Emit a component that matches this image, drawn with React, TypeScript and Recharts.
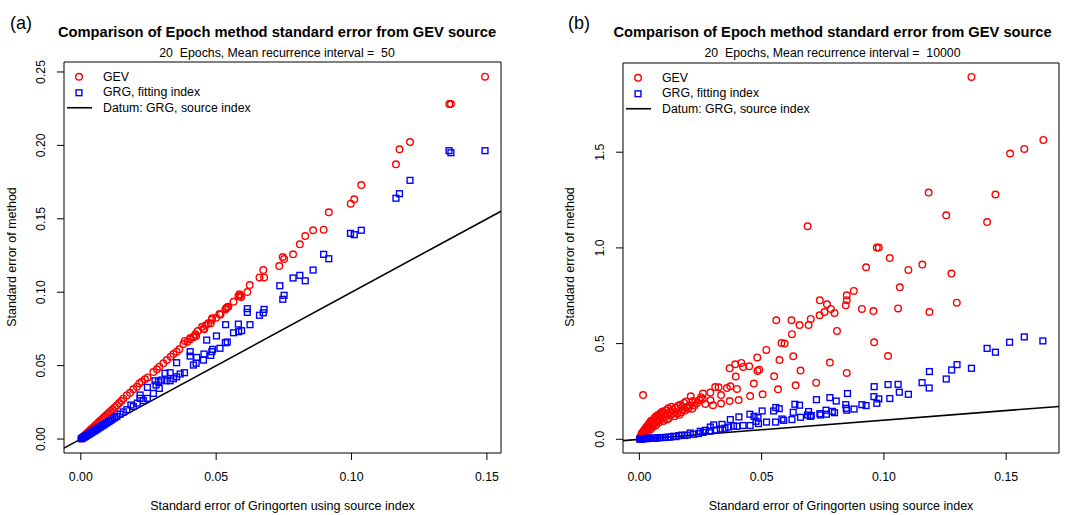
import React from 'react';
import { ScatterChart, Scatter, XAxis, YAxis, ReferenceLine, ReferenceArea } from 'recharts';

const FONT = '"Liberation Sans", Arial, Helvetica, sans-serif';
const W = 536;
const H = 515;

// tick positions
const xTicks = [0, 0.05, 0.1, 0.15];
const yTicksA = [0, 0.05, 0.1, 0.15, 0.2, 0.25];
const yTicksB = [0, 0.5, 1, 1.5];

// axis ranges (R style, 4% padding)
const xDomainA: [number, number] = [-0.0062, 0.1552];
const yDomainA: [number, number] = [-0.0095, 0.2568];
const xDomainB: [number, number] = [-0.0067, 0.1716];
const yDomainB: [number, number] = [-0.0716, 1.966];

// (a) MRI = 50, GEV standard error
const gevA: [number, number][] = [
  [0.0002, 0.0003], [0.0005, 0.0008], [0.0008, 0.0013], [0.0011, 0.0019], [0.0014, 0.0024],
  [0.0017, 0.0029], [0.0021, 0.0036], [0.0025, 0.0043], [0.0029, 0.005], [0.0033, 0.0057],
  [0.0037, 0.0064], [0.0041, 0.007], [0.0046, 0.0079], [0.0051, 0.0088], [0.0056, 0.0096],
  [0.0061, 0.0105], [0.0066, 0.0114], [0.0072, 0.0124], [0.0078, 0.0134], [0.0084, 0.0145],
  [0.009, 0.0155], [0.0097, 0.0167], [0.0104, 0.0179], [0.0111, 0.0191], [0.0118, 0.0203],
  [0.0126, 0.0217], [0.0134, 0.0231], [0.0142, 0.0245], [0.015, 0.0259], [0.0157, 0.0275],
  [0.017, 0.0298], [0.0182, 0.0315], [0.0194, 0.0339], [0.0207, 0.0356], [0.0216, 0.0379],
  [0.0225, 0.039], [0.0237, 0.0407], [0.0247, 0.042], [0.0268, 0.0456], [0.0281, 0.0475],
  [0.029, 0.0493], [0.0305, 0.0516], [0.0318, 0.0538], [0.0332, 0.0561], [0.0342, 0.0579],
  [0.0354, 0.0595], [0.0364, 0.0611], [0.0379, 0.0647], [0.0384, 0.0668], [0.0394, 0.0663],
  [0.0404, 0.0679], [0.0404, 0.0688], [0.0416, 0.0693], [0.0417, 0.0697], [0.0423, 0.0713],
  [0.0426, 0.0702], [0.0432, 0.0736], [0.0448, 0.0765], [0.0453, 0.0751], [0.0456, 0.0747],
  [0.0462, 0.0775], [0.0471, 0.0788], [0.048, 0.0788], [0.0484, 0.0811], [0.0485, 0.0822],
  [0.05, 0.0826], [0.0512, 0.0851], [0.0516, 0.0847], [0.0534, 0.0883], [0.0537, 0.089],
  [0.054, 0.0897], [0.0545, 0.0901], [0.0564, 0.0935], [0.0582, 0.0972], [0.0586, 0.0986],
  [0.0588, 0.0974], [0.0592, 0.0967], [0.0615, 0.1001], [0.0624, 0.1049], [0.066, 0.1101],
  [0.0674, 0.1151], [0.0677, 0.1101], [0.0733, 0.1178], [0.0746, 0.124], [0.0751, 0.1226],
  [0.0784, 0.1258], [0.0809, 0.1326], [0.0829, 0.1383], [0.0858, 0.1422], [0.0897, 0.1426],
  [0.0916, 0.1544], [0.0997, 0.1603], [0.101, 0.1633], [0.1036, 0.173], [0.1164, 0.1871],
  [0.1177, 0.1973], [0.1216, 0.2023], [0.1361, 0.2282], [0.1367, 0.2282], [0.1493, 0.2468],
];

// (a) GRG with fitting index
const grgA: [number, number][] = [
  [0.0002, 0.0002], [0.0005, 0.0006], [0.0008, 0.0009], [0.0011, 0.0012], [0.0014, 0.0016],
  [0.0017, 0.0019], [0.0021, 0.0023], [0.0025, 0.0028], [0.0029, 0.0032], [0.0033, 0.0037],
  [0.0037, 0.0041], [0.0041, 0.0046], [0.0046, 0.0052], [0.0051, 0.0057], [0.0056, 0.0063],
  [0.0061, 0.0069], [0.0066, 0.0075], [0.0072, 0.0082], [0.0078, 0.0089], [0.0084, 0.0096],
  [0.009, 0.0103], [0.0097, 0.0111], [0.0104, 0.012], [0.0111, 0.0128], [0.0118, 0.0137],
  [0.0126, 0.0146], [0.0133, 0.0155], [0.0145, 0.017], [0.0157, 0.0185], [0.017, 0.02],
  [0.0185, 0.0232], [0.0194, 0.0222], [0.0209, 0.0245], [0.0219, 0.0277], [0.0219, 0.03],
  [0.0231, 0.0262], [0.0246, 0.0277], [0.0246, 0.0352], [0.0268, 0.0311], [0.0274, 0.0397],
  [0.0278, 0.0368], [0.0287, 0.039], [0.029, 0.0345], [0.0299, 0.0402], [0.0311, 0.0448],
  [0.0315, 0.0397], [0.033, 0.0452], [0.033, 0.0397], [0.0342, 0.0411], [0.0354, 0.0424],
  [0.0354, 0.052], [0.0367, 0.0443], [0.0383, 0.0452], [0.0404, 0.0565], [0.0404, 0.0595],
  [0.0416, 0.0504], [0.0426, 0.0516], [0.0428, 0.0556], [0.0453, 0.0538], [0.0455, 0.0579],
  [0.0465, 0.0674], [0.048, 0.057], [0.0484, 0.0595], [0.0487, 0.0611], [0.0501, 0.0702],
  [0.0514, 0.0618], [0.0534, 0.0656], [0.0535, 0.0779], [0.0541, 0.0661], [0.0564, 0.0724],
  [0.0582, 0.0783], [0.0583, 0.0731], [0.0594, 0.0738], [0.0615, 0.0888], [0.0615, 0.0863],
  [0.0625, 0.0779], [0.066, 0.0843], [0.0674, 0.086], [0.0677, 0.0883], [0.0735, 0.1044],
  [0.0746, 0.0952], [0.0751, 0.0979], [0.0784, 0.1097], [0.0809, 0.1115], [0.0829, 0.1078],
  [0.0858, 0.1151], [0.0897, 0.1258], [0.0916, 0.1228], [0.0996, 0.1401], [0.101, 0.1392],
  [0.1036, 0.1422], [0.1164, 0.164], [0.1177, 0.1671], [0.1216, 0.1762], [0.136, 0.1964],
  [0.1367, 0.195], [0.1493, 0.1964],
];

// (b) MRI = 10000, GEV standard error
const gevB: [number, number][] = [
  [0.0002, 0.004], [0.0004, 0.012], [0.0006, 0.008], [0.0008, 0.018], [0.0009, 0.03],
  [0.0011, 0.026], [0.0013, 0.035], [0.0014, 0.02], [0.0015, 0.231], [0.0017, 0.032],
  [0.0018, 0.045], [0.002, 0.038], [0.0022, 0.052], [0.0023, 0.03], [0.0026, 0.044],
  [0.0027, 0.06], [0.003, 0.066], [0.0031, 0.047], [0.0034, 0.072], [0.0035, 0.04],
  [0.0038, 0.056], [0.0039, 0.08], [0.0042, 0.061], [0.0043, 0.088], [0.0046, 0.052],
  [0.0047, 0.095], [0.0049, 0.068], [0.0052, 0.073], [0.0053, 0.1], [0.0056, 0.064],
  [0.0058, 0.094], [0.006, 0.08], [0.0062, 0.11], [0.0065, 0.085], [0.0066, 0.118],
  [0.0068, 0.074], [0.007, 0.105], [0.0072, 0.092], [0.0074, 0.125], [0.0076, 0.099],
  [0.0079, 0.12], [0.008, 0.088], [0.0083, 0.132], [0.0084, 0.104], [0.0088, 0.128],
  [0.009, 0.14], [0.0093, 0.108], [0.0095, 0.145], [0.0098, 0.096], [0.0101, 0.136],
  [0.0106, 0.117], [0.0108, 0.15], [0.0112, 0.104], [0.0115, 0.13], [0.0118, 0.162],
  [0.012, 0.108], [0.0124, 0.142], [0.0128, 0.125], [0.0131, 0.17], [0.0136, 0.155],
  [0.0139, 0.138], [0.0144, 0.12], [0.0148, 0.165], [0.0154, 0.134], [0.0158, 0.175],
  [0.0163, 0.128], [0.0167, 0.18], [0.0172, 0.141], [0.0176, 0.17], [0.0178, 0.157],
  [0.0183, 0.19], [0.0186, 0.15], [0.0191, 0.198], [0.0195, 0.169], [0.02, 0.16],
  [0.0206, 0.178], [0.021, 0.225], [0.0216, 0.16], [0.0218, 0.2], [0.0225, 0.176],
  [0.0228, 0.195], [0.0236, 0.19], [0.0245, 0.205], [0.0252, 0.22], [0.0259, 0.211],
  [0.026, 0.239], [0.027, 0.185], [0.029, 0.244], [0.0291, 0.204],
  [0.0301, 0.178], [0.031, 0.273], [0.0324, 0.272], [0.0334, 0.231], [0.0334, 0.187],
  [0.0358, 0.268], [0.0369, 0.2], [0.0369, 0.371], [0.0372, 0.277], [0.0392, 0.392],
  [0.0394, 0.328], [0.0399, 0.263], [0.0406, 0.205], [0.0417, 0.399], [0.0424, 0.378],
  [0.0449, 0.381], [0.0453, 0.226], [0.0468, 0.291], [0.0482, 0.428], [0.0483, 0.357],
  [0.049, 0.364], [0.0504, 0.235], [0.0519, 0.467], [0.0551, 0.329], [0.056, 0.622],
  [0.0567, 0.261], [0.0573, 0.414], [0.0581, 0.503], [0.0594, 0.5], [0.0622, 0.622],
  [0.0624, 0.549], [0.0629, 0.434], [0.0639, 0.282], [0.0655, 0.597], [0.0659, 0.359],
  [0.0688, 1.113], [0.0692, 0.597], [0.0701, 0.629], [0.0723, 0.296], [0.0737, 0.648],
  [0.0738, 0.726], [0.0757, 0.665], [0.0767, 0.705], [0.0779, 0.401], [0.0783, 0.681],
  [0.0798, 0.66], [0.0808, 0.566], [0.0844, 0.7], [0.0848, 0.727], [0.0848, 0.752],
  [0.0848, 0.347], [0.0877, 0.775], [0.091, 0.681], [0.0927, 0.899], [0.0957, 0.67],
  [0.096, 0.507], [0.0971, 1.002], [0.0979, 1.002], [0.1017, 0.435], [0.1024, 0.947],
  [0.1058, 0.684], [0.1065, 0.794], [0.11, 0.885], [0.1157, 0.913], [0.1183, 1.289],
  [0.1186, 0.665], [0.1255, 1.17], [0.1276, 0.866], [0.1298, 0.714], [0.1358, 1.893],
  [0.1422, 1.135], [0.1456, 1.279], [0.1516, 1.493], [0.1574, 1.517], [0.1652, 1.564],
];

// (b) GRG with fitting index
const grgB: [number, number][] = [
  [0.0002, 0.001], [0.0004, 0.002], [0.0008, 0.002], [0.0012, 0.003], [0.0016, 0.003],
  [0.002, 0.004], [0.0025, 0.004], [0.0031, 0.004], [0.0037, 0.005], [0.0044, 0.005],
  [0.0051, 0.005], [0.0058, 0.005], [0.0066, 0.006], [0.0075, 0.007], [0.0086, 0.009],
  [0.0096, 0.009], [0.0106, 0.01], [0.0117, 0.011], [0.0127, 0.012], [0.014, 0.016],
  [0.015, 0.014], [0.0161, 0.019], [0.0174, 0.022], [0.0185, 0.02], [0.0195, 0.022],
  [0.0208, 0.033], [0.0222, 0.026], [0.0242, 0.03], [0.0249, 0.042], [0.026, 0.036],
  [0.027, 0.047], [0.0287, 0.042], [0.029, 0.064], [0.0304, 0.075], [0.0315, 0.048],
  [0.0331, 0.054], [0.0338, 0.078], [0.035, 0.058], [0.0365, 0.064], [0.0372, 0.103],
  [0.0385, 0.07], [0.0399, 0.068], [0.0407, 0.117], [0.0424, 0.072], [0.0452, 0.131],
  [0.0453, 0.072], [0.0469, 0.12], [0.0477, 0.094], [0.0485, 0.113], [0.0487, 0.082],
  [0.0502, 0.148], [0.052, 0.09], [0.0549, 0.148], [0.0557, 0.09], [0.0558, 0.166],
  [0.0572, 0.16], [0.0583, 0.106], [0.059, 0.099], [0.0624, 0.103], [0.0629, 0.141],
  [0.0636, 0.183], [0.0655, 0.178], [0.0659, 0.115], [0.0688, 0.127], [0.0692, 0.145],
  [0.0699, 0.12], [0.0703, 0.124], [0.0724, 0.207], [0.0738, 0.134], [0.0741, 0.127],
  [0.0763, 0.152], [0.0765, 0.131], [0.0779, 0.218], [0.0789, 0.146], [0.0798, 0.139],
  [0.0805, 0.2], [0.0844, 0.181], [0.0846, 0.162], [0.0848, 0.152], [0.0851, 0.239],
  [0.0878, 0.158], [0.091, 0.181], [0.0927, 0.176], [0.0959, 0.223], [0.096, 0.275],
  [0.0971, 0.188], [0.0979, 0.211], [0.1017, 0.286], [0.1024, 0.213], [0.1058, 0.287],
  [0.1063, 0.246], [0.11, 0.235], [0.1156, 0.296], [0.1185, 0.268], [0.1186, 0.354],
  [0.1255, 0.315], [0.1277, 0.362], [0.1299, 0.39], [0.1358, 0.371], [0.1422, 0.475],
  [0.1456, 0.455], [0.1514, 0.507], [0.1574, 0.535], [0.165, 0.514],
];

const toPoints = (arr: [number, number][]) => arr.map(([x, y]) => ({ x, y }));

const RedCircle = (props: any) => (
  <circle cx={props.cx} cy={props.cy} r={3.3} fill="none" stroke="#ff0000" strokeWidth={1.4} />
);

const BlueSquare = (props: any) => (
  <rect x={props.cx - 2.9} y={props.cy - 2.9} width={5.8} height={5.8} fill="none" stroke="#0000ff" strokeWidth={1.4} />
);

const XTick = (props: any) => (
  <text x={props.x} y={props.y} dy="0.71em" textAnchor="middle" fontSize={12.3} fontFamily={FONT} fill="#000">
    {props.payload.value.toFixed(2)}
  </text>
);

const makeYTick = (digits: number) => (props: any) => {
  const cx = props.x - 16;
  return (
    <text
      x={cx}
      y={props.y}
      transform={`rotate(-90, ${cx}, ${props.y})`}
      textAnchor="middle"
      dominantBaseline="central"
      fontSize={12.3}
      fontFamily={FONT}
      fill="#000"
    >
      {props.payload.value.toFixed(digits)}
    </text>
  );
};

const LegendRow = ({ kind, label }: { kind: 'circle' | 'square' | 'line'; label: string }) => (
  <div style={{ display: 'flex', alignItems: 'center', height: 15.5 }}>
    <svg width={36} height={15.5} style={{ display: 'block' }}>
      {kind === 'circle' && <circle cx={15} cy={7.75} r={3.3} fill="none" stroke="#ff0000" strokeWidth={1.4} />}
      {kind === 'square' && <rect x={12.1} y={4.85} width={5.8} height={5.8} fill="none" stroke="#0000ff" strokeWidth={1.4} />}
      {kind === 'line' && <line x1={3} x2={28} y1={7.75} y2={7.75} stroke="#000" strokeWidth={1.6} />}
    </svg>
    <span style={{ marginLeft: 3, fontSize: 12.3, whiteSpace: 'pre' }}>{label}</span>
  </div>
);

interface PanelProps {
  left: number;
  tag: string;
  tagX: number;
  titleX: number;
  subtitle: string;
  gev: [number, number][];
  grg: [number, number][];
  xDomain: [number, number];
  yDomain: [number, number];
  yTicks: number[];
  yDigits: number;
  yAxisWidth: number;
  marginTop: number;
  marginRight: number;
  yLabelX: number;
}

const Panel = (p: PanelProps) => {
  const plotCenter = (p.yAxisWidth + W - p.marginRight) / 2;
  return (
    <div style={{ position: 'absolute', left: p.left, top: 0, width: W, height: H, fontFamily: FONT, color: '#000' }}>
      <ScatterChart width={W} height={H} margin={{ top: p.marginTop, right: p.marginRight, bottom: 32, left: 0 }}>
        <XAxis
          type="number"
          dataKey="x"
          domain={p.xDomain}
          ticks={xTicks}
          interval={0}
          allowDataOverflow
          axisLine={false}
          tickSize={7}
          tickMargin={12}
          stroke="#000"
          height={30}
          tick={XTick}
        />
        <YAxis
          type="number"
          dataKey="y"
          domain={p.yDomain}
          ticks={p.yTicks}
          interval={0}
          allowDataOverflow
          axisLine={false}
          tickSize={7}
          tickMargin={0}
          stroke="#000"
          width={p.yAxisWidth}
          tick={makeYTick(p.yDigits)}
        />
        <ReferenceArea
          x1={p.xDomain[0]}
          x2={p.xDomain[1]}
          y1={p.yDomain[0]}
          y2={p.yDomain[1]}
          fill="none"
          fillOpacity={0}
          stroke="#000"
          strokeWidth={1}
        />
        <Scatter data={toPoints(p.gev)} shape={RedCircle} isAnimationActive={false} />
        <Scatter data={toPoints(p.grg)} shape={BlueSquare} isAnimationActive={false} />
        <ReferenceLine
          segment={[
            { x: p.xDomain[0], y: p.xDomain[0] },
            { x: p.xDomain[1], y: p.xDomain[1] },
          ]}
          stroke="#000"
          strokeWidth={1.6}
        />
      </ScatterChart>

      <div style={{ position: 'absolute', left: p.tagX, top: 12, fontSize: 18, lineHeight: '22px' }}>{p.tag}</div>
      <div
        style={{
          position: 'absolute', left: p.titleX, top: 23, transform: 'translateX(-50%)',
          fontSize: 14.7, fontWeight: 'bold', lineHeight: '18px', whiteSpace: 'nowrap',
        }}
      >
        Comparison of Epoch method standard error from GEV source
      </div>
      <div
        style={{
          position: 'absolute', left: p.titleX, top: 45, transform: 'translateX(-50%)',
          fontSize: 12.3, lineHeight: '16px', whiteSpace: 'pre',
        }}
      >
        {p.subtitle}
      </div>
      <div
        style={{
          position: 'absolute', left: plotCenter, top: 498, transform: 'translateX(-50%)',
          fontSize: 12.5, lineHeight: '16px', whiteSpace: 'nowrap',
        }}
      >
        Standard error of Gringorten using source index
      </div>
      <div
        style={{
          position: 'absolute', left: p.yLabelX, top: 257, transform: 'translate(-50%, -50%) rotate(-90deg)',
          fontSize: 12.5, lineHeight: '16px', whiteSpace: 'nowrap',
        }}
      >
        Standard error of method
      </div>
      <div style={{ position: 'absolute', left: p.yAxisWidth, top: p.marginTop + 7 }}>
        <LegendRow kind="circle" label="GEV" />
        <LegendRow kind="square" label="GRG, fitting index" />
        <LegendRow kind="line" label="Datum: GRG, source index" />
      </div>
    </div>
  );
};

export default function App() {
  return (
    <div style={{ position: 'absolute', left: 0, top: 0, width: 1072, height: 515, background: '#fff' }}>
      <Panel
        left={0}
        tag="(a)"
        tagX={10}
        titleX={277}
        subtitle="20  Epochs, Mean recurrence interval =  50"
        gev={gevA}
        grg={grgA}
        xDomain={xDomainA}
        yDomain={yDomainA}
        yTicks={yTicksA}
        yDigits={2}
        yAxisWidth={64}
        marginTop={62}
        marginRight={35}
        yLabelX={12}
      />
      <Panel
        left={536}
        tag="(b)"
        tagX={32}
        titleX={296.5}
        subtitle="20  Epochs, Mean recurrence interval =  10000"
        gev={gevB}
        grg={grgB}
        xDomain={xDomainB}
        yDomain={yDomainB}
        yTicks={yTicksB}
        yDigits={1}
        yAxisWidth={87}
        marginTop={63}
        marginRight={13}
        yLabelX={34}
      />
    </div>
  );
}
